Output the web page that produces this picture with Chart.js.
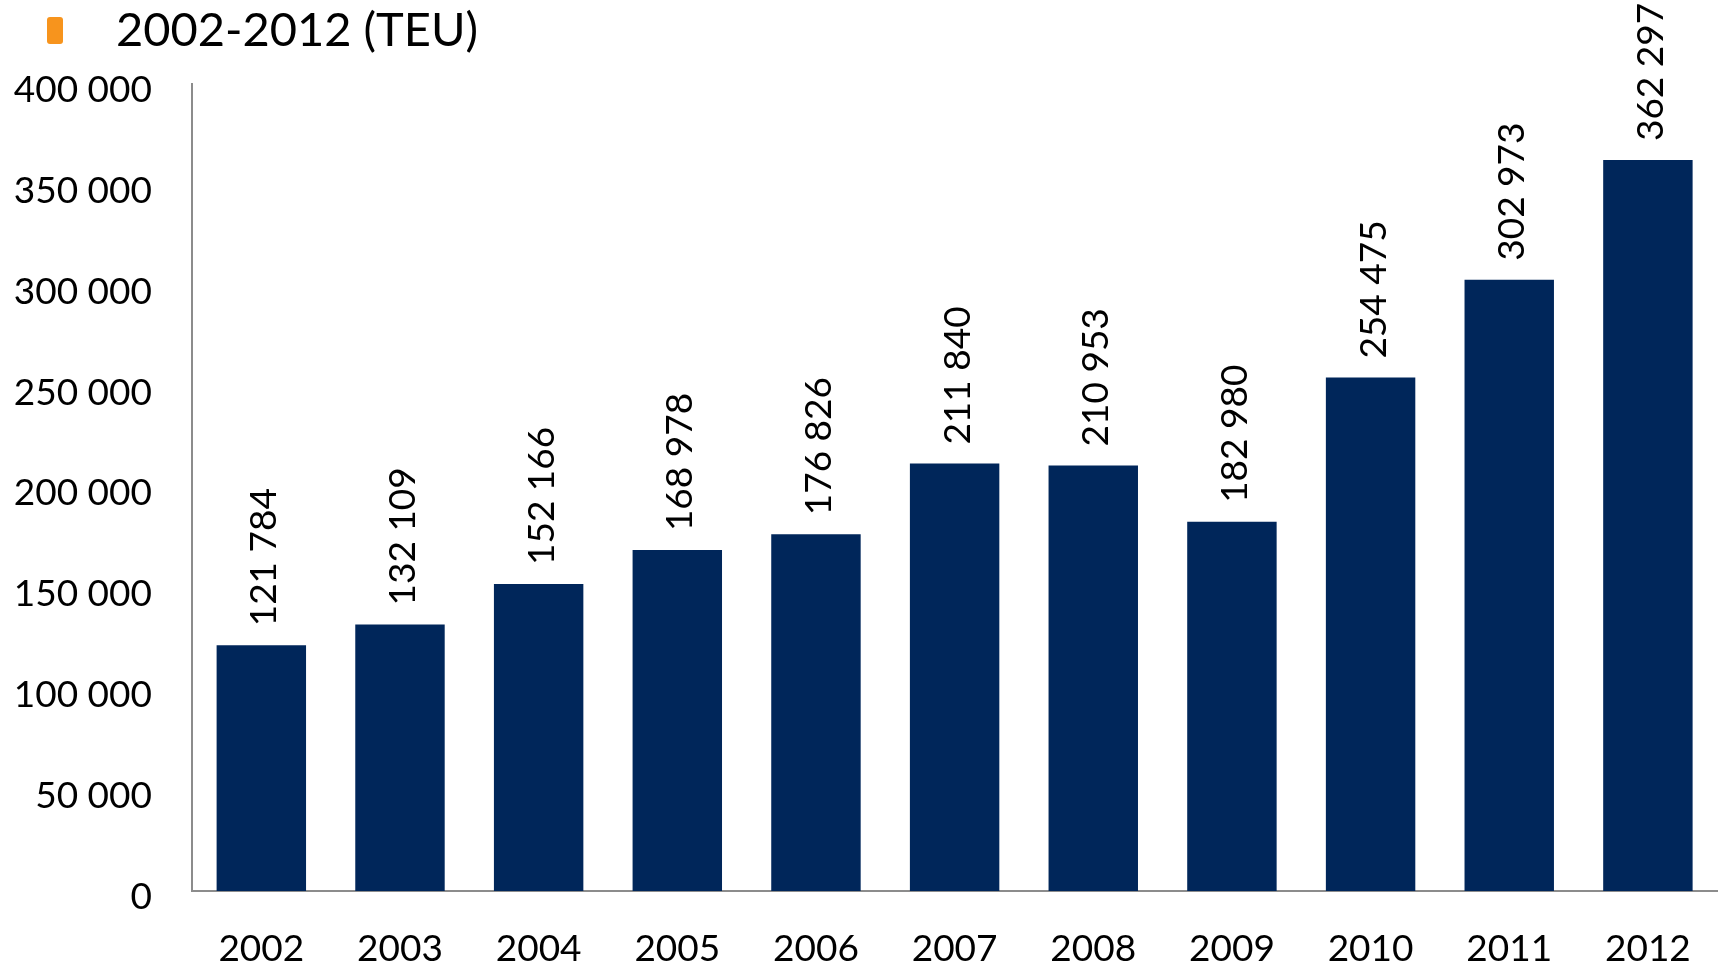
<!DOCTYPE html>
<html>
<head>
<meta charset="utf-8">
<script src="https://cdn.jsdelivr.net/npm/chart.js@4"></script>
<style>
  html, body { margin: 0; padding: 0; background: #fff; }
  #wrap { width: 1727px; height: 967px; }
</style>
</head>
<body>
<div id="wrap"><canvas id="teuChart"></canvas></div>
<script>
// data
const years = ["2002", "2003", "2004", "2005", "2006", "2007", "2008", "2009", "2010", "2011", "2012"];
const teu = [121784, 132109, 152166, 168978, 176826, 211840, 210953, 182980, 254475, 302973, 362297];
const yMax = 400000;
const yStep = 50000;
const legendText = "2002-2012 (TEU)";

const fontFamily = "Lato, 'Open Sans', sans-serif";

// 121784 -> "121 784"
function fmt(n) {
    return n.toString().replace(/\B(?=(\d{3})+(?!\d))/g, " ");
}

// valeurs au-dessus des barres, texte vertical
const barLabels = {
    id: "barLabels",
    afterDatasetsDraw(chart) {
        const ctx = chart.ctx;
        const meta = chart.getDatasetMeta(0);
        ctx.save();
        ctx.font = "37px " + fontFamily;
        ctx.fillStyle = "#000";
        ctx.textAlign = "left";
        ctx.textBaseline = "middle";
        meta.data.forEach(function (bar, i) {
            ctx.save();
            ctx.translate(bar.x + 3, bar.y - 19);
            ctx.rotate(-Math.PI / 2);
            ctx.fillText(fmt(teu[i]), 0, 0);
            ctx.restore();
        });
        ctx.restore();
    }
};

// puce orange + titre en haut à gauche
const bulletLegend = {
    id: "bulletLegend",
    afterDraw(chart) {
        const ctx = chart.ctx;
        ctx.save();
        ctx.fillStyle = "#F7941D";
        ctx.beginPath();
        ctx.roundRect(47, 17, 16, 27, 3);
        ctx.fill();
        ctx.fillStyle = "#000";
        ctx.font = "47px " + fontFamily;
        ctx.textAlign = "left";
        ctx.textBaseline = "middle";
        ctx.fillText(legendText, 116, 31);
        ctx.restore();
    }
};

const ctx = document.getElementById("teuChart").getContext("2d");

const teuChart = new Chart(ctx, {
    type: "bar",
    data: {
        labels: years,
        datasets: [
            {
                label: legendText,
                data: teu,
                backgroundColor: "#00265A",
                borderWidth: 0,
                categoryPercentage: 1,
                barPercentage: 0.645
            }
        ]
    },
    options: {
        responsive: true,
        maintainAspectRatio: false,
        animation: false,
        layout: {
            padding: { top: 84, right: 4, bottom: 0, left: 0 }
        },
        plugins: {
            legend: { display: false },
            tooltip: { enabled: false }
        },
        scales: {
            x: {
                grid: { display: false, drawTicks: false },
                border: { display: true, color: "#8c8c8c", width: 2 },
                ticks: {
                    color: "#000",
                    font: { family: fontFamily, size: 37 },
                    padding: 36,
                    maxRotation: 0
                },
                afterFit(scale) { scale.height = 76; }
            },
            y: {
                min: 0,
                max: yMax,
                grid: { display: false, drawTicks: false },
                border: { display: true, color: "#8c8c8c", width: 2 },
                ticks: {
                    stepSize: yStep,
                    color: "#000",
                    font: { family: fontFamily, size: 37 },
                    padding: 40,
                    labelOffset: 6,
                    callback: function (v) { return fmt(v); }
                },
                afterFit(scale) { scale.width = 192; }
            }
        }
    },
    plugins: [barLabels, bulletLegend]
});
</script>
</body>
</html>
